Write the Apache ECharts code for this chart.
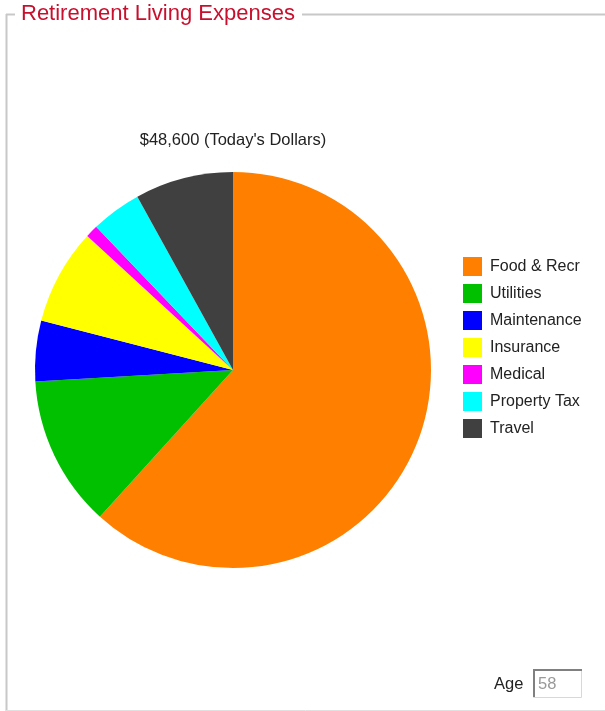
<!DOCTYPE html>
<html>
<head>
<meta charset="utf-8">
<script src="https://cdn.jsdelivr.net/npm/echarts@6/dist/echarts.min.js"></script>
<style>
  html, body { margin: 0; padding: 0; background: #fff; }
  #chart { width: 605px; height: 711px; }
</style>
</head>
<body>
<div id="chart"></div>
<script>
const categories = ['Food & Recr', 'Utilities', 'Maintenance', 'Insurance', 'Medical', 'Property Tax', 'Travel'];
const amounts = [30000, 6000, 2400, 3800, 500, 2000, 3900];
const colors = ['#ff8000', '#00c000', '#0000ff', '#ffff00', '#ff00ff', '#00ffff', '#404040'];
const totalLabel = '$48,600 (Today\'s Dollars)';
const age = '58';

const myChart = echarts.init(document.getElementById('chart'));
const font = 'Arial, "Liberation Sans", sans-serif';

myChart.setOption({
  animation: false,
  color: colors,
  title: {
    text: totalLabel,
    left: 233,
    top: 132,
    padding: 0,
    textAlign: 'center',
    textStyle: {fontFamily: font, fontSize: 16.5, fontWeight: 'normal', color: '#222'}
  },
  legend: {
    orient: 'vertical',
    left: 463,
    top: 257,
    padding: 0,
    itemWidth: 19,
    itemHeight: 19,
    itemGap: 8,
    icon: 'rect',
    selectedMode: false,
    textStyle: {fontFamily: font, fontSize: 16, color: '#222', padding: [0, 0, 0, 3]},
    data: categories
  },
  graphic: [
    // frame
    {type: 'line', shape: {x1: 6.5, y1: 14, x2: 6.5, y2: 711}, style: {stroke: '#c8c8c8', lineWidth: 2}},
    {type: 'line', shape: {x1: 6, y1: 14.5, x2: 15, y2: 14.5}, style: {stroke: '#c8c8c8', lineWidth: 2}},
    {type: 'line', shape: {x1: 302, y1: 14.5, x2: 605, y2: 14.5}, style: {stroke: '#c8c8c8', lineWidth: 2}},
    {type: 'line', shape: {x1: 6, y1: 710.5, x2: 605, y2: 710.5}, style: {stroke: '#e0e0e0', lineWidth: 1}},
    {type: 'text', left: 21, top: 3,
      style: {text: 'Retirement Living Expenses', fill: '#c8102e', font: '22px ' + font}},
    // age box
    {type: 'text', left: 494, top: 676,
      style: {text: 'Age', fill: '#222', font: '16.5px ' + font}},
    {type: 'rect', shape: {x: 533.5, y: 669.5, width: 48, height: 28},
      style: {fill: '#fff', stroke: '#d8d8d8', lineWidth: 1}},
    {type: 'polyline', shape: {points: [[534, 697], [534, 670], [582, 670]]},
      style: {stroke: '#808080', lineWidth: 2, fill: null}},
    {type: 'text', left: 538, top: 676,
      style: {text: age, fill: '#999', font: '16.5px ' + font}}
  ],
  series: [{
    type: 'pie',
    center: [233, 370],
    radius: 198,
    startAngle: 90,
    clockwise: true,
    label: {show: false},
    labelLine: {show: false},
    emphasis: {disabled: true},
    itemStyle: {borderWidth: 0},
    data: categories.map((name, i) => ({name, value: amounts[i]}))
  }]
});
</script>
</body>
</html>
